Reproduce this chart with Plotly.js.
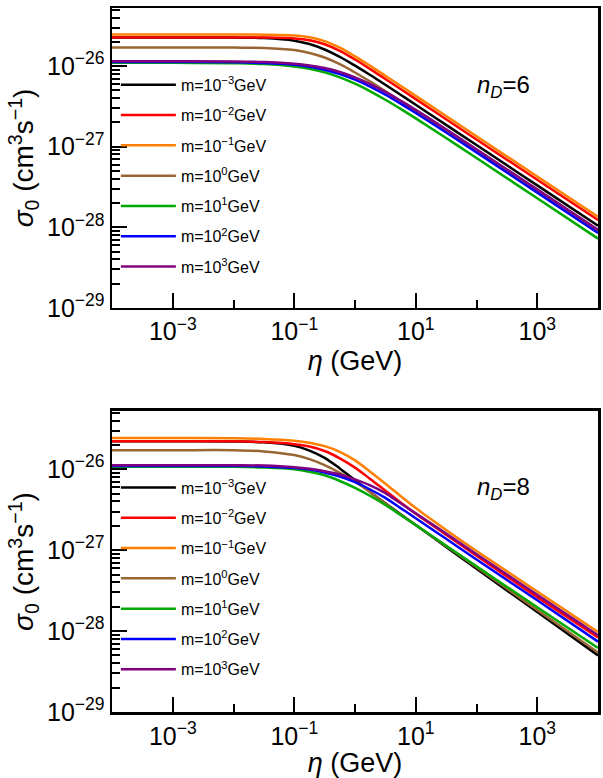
<!DOCTYPE html>
<html><head><meta charset="utf-8">
<script src="https://cdn.plot.ly/plotly-3.0.1.min.js"></script>
<style>html,body{margin:0;padding:0;background:#fff}#chart{width:603px;height:778px}</style>
</head><body><div id="chart"></div>
<script>
// eta (GeV) sample points
const eta = [1e-4, 1e-3, 1e-2, 0.0316, 0.1, 0.178, 0.316, 0.562, 1, 1.78, 3.16, 5.62, 10, 31.6, 100, 1000, 10000];

const massLabels = ['m=10<sup>−3</sup>GeV', 'm=10<sup>−2</sup>GeV', 'm=10<sup>−1</sup>GeV', 'm=10<sup>0</sup>GeV', 'm=10<sup>1</sup>GeV', 'm=10<sup>2</sup>GeV', 'm=10<sup>3</sup>GeV'];
const lineColors = ['#000000', '#ff0000', '#ff8000', '#996633', '#00aa00', '#0000ff', '#800080'];

// sigma_0 (cm^3 s^-1), n_D = 6
const nd6_m1em3 = [2.265e-26, 2.265e-26, 2.254e-26, 2.223e-26, 2.065e-26, 1.875e-26, 1.603e-26, 1.300e-26, 1.012e-26, 7.74e-27, 5.85e-27, 4.41e-27, 3.31e-27, 1.862e-27, 1.047e-27, 3.31e-28, 1.047e-28];
const nd6_m1em2 = [2.265e-26, 2.265e-26, 2.265e-26, 2.259e-26, 2.203e-26, 2.089e-26, 1.866e-26, 1.545e-26, 1.205e-26, 9.16e-27, 6.90e-27, 5.19e-27, 3.89e-27, 2.188e-27, 1.230e-27, 3.89e-28, 1.230e-28];
const nd6_m1em1 = [2.455e-26, 2.455e-26, 2.455e-26, 2.449e-26, 2.393e-26, 2.275e-26, 2.037e-26, 1.687e-26, 1.318e-26, 1.005e-26, 7.57e-27, 5.69e-27, 4.27e-27, 2.40e-27, 1.349e-27, 4.27e-28, 1.349e-28];
const nd6_m1e0 = [1.698e-26, 1.698e-26, 1.694e-26, 1.675e-26, 1.578e-26, 1.455e-26, 1.276e-26, 1.054e-26, 8.32e-27, 6.40e-27, 4.86e-27, 3.66e-27, 2.748e-27, 1.549e-27, 8.71e-28, 2.754e-28, 8.71e-29];
const nd6_m1e1 = [1.096e-26, 1.096e-26, 1.084e-26, 1.059e-26, 9.89e-27, 9.25e-27, 8.36e-27, 7.24e-27, 6.04e-27, 4.86e-27, 3.82e-27, 2.944e-27, 2.244e-27, 1.279e-27, 7.23e-28, 2.291e-28, 7.24e-29];
const nd6_m1e2 = [1.122e-26, 1.122e-26, 1.112e-26, 1.091e-26, 1.035e-26, 9.79e-27, 9.02e-27, 7.98e-27, 6.78e-27, 5.55e-27, 4.41e-27, 3.42e-27, 2.618e-27, 1.500e-27, 8.49e-28, 2.69e-28, 8.51e-29];
const nd6_m1e3 = [1.148e-26, 1.148e-26, 1.140e-26, 1.122e-26, 1.069e-26, 1.019e-26, 9.44e-27, 8.43e-27, 7.24e-27, 5.97e-27, 4.78e-27, 3.72e-27, 2.858e-27, 1.641e-27, 9.29e-28, 2.95e-28, 9.33e-29];

// sigma_0 (cm^3 s^-1), n_D = 8
const nd8_m1em3 = [2.213e-26, 2.213e-26, 2.203e-26, 2.148e-26, 1.950e-26, 1.698e-26, 1.380e-26, 1.023e-26, 7.33e-27, 5.25e-27, 3.80e-27, 2.786e-27, 2.042e-27, 1.096e-27, 5.89e-28, 1.718e-28, 5.01e-29];
const nd8_m1em2 = [2.213e-26, 2.213e-26, 2.213e-26, 2.163e-26, 2.042e-26, 1.905e-26, 1.679e-26, 1.365e-26, 1.047e-26, 7.59e-27, 5.43e-27, 3.89e-27, 2.818e-27, 1.549e-27, 8.51e-28, 2.63e-28, 8.32e-29];
const nd8_m1em1 = [2.427e-26, 2.427e-26, 2.415e-26, 2.371e-26, 2.249e-26, 2.128e-26, 1.928e-26, 1.641e-26, 1.288e-26, 9.33e-27, 6.61e-27, 4.68e-27, 3.31e-27, 1.778e-27, 9.77e-28, 3.09e-28, 9.77e-29];
const nd8_m1e0 = [1.718e-26, 1.718e-26, 1.718e-26, 1.660e-26, 1.496e-26, 1.334e-26, 1.122e-26, 9.02e-27, 7.00e-27, 5.19e-27, 3.76e-27, 2.754e-27, 2.042e-27, 1.122e-27, 6.17e-28, 1.820e-28, 5.43e-29];
const nd8_m1e1 = [1.072e-26, 1.072e-26, 1.072e-26, 1.052e-26, 1.0e-26, 9.33e-27, 8.41e-27, 7.16e-27, 5.89e-27, 4.68e-27, 3.63e-27, 2.723e-27, 2.042e-27, 1.135e-27, 6.31e-28, 1.972e-28, 6.17e-29];
const nd8_m1e2 = [1.096e-26, 1.096e-26, 1.096e-26, 1.084e-26, 1.035e-26, 9.89e-27, 9.12e-27, 8.13e-27, 6.92e-27, 5.62e-27, 4.42e-27, 3.31e-27, 2.483e-27, 1.380e-27, 7.67e-28, 2.399e-28, 7.41e-29];
const nd8_m1e3 = [1.122e-26, 1.122e-26, 1.122e-26, 1.109e-26, 1.059e-26, 1.012e-26, 9.44e-27, 8.61e-27, 7.50e-27, 6.31e-27, 5.07e-27, 3.80e-27, 2.851e-27, 1.603e-27, 8.91e-28, 2.818e-28, 8.91e-29];

const xTickVals = [1e-3, 1e-1, 1e1, 1e3];
const xTickText = ['10<sup>−3</sup>', '10<sup>−1</sup>', '10<sup>1</sup>', '10<sup>3</sup>'];
const xMinorVals = [1e-2, 1, 100];
const yTickVals = [1e-29, 1e-28, 1e-27, 1e-26];
const yTickText = ['10<sup>−29</sup>', '10<sup>−28</sup>', '10<sup>−27</sup>', '10<sup>−26</sup>'];
const yMinorVals = [];
for (let e = -29; e <= -26; e++) for (let k = 2; k <= 9; k++) yMinorVals.push(k * Math.pow(10, e));

const panelTop = [nd6_m1em3, nd6_m1em2, nd6_m1em1, nd6_m1e0, nd6_m1e1, nd6_m1e2, nd6_m1e3];
const panelBot = [nd8_m1em3, nd8_m1em2, nd8_m1em1, nd8_m1e0, nd8_m1e1, nd8_m1e2, nd8_m1e3];

const traces = [];
panelTop.forEach((ys, i) => traces.push({
  x: eta, y: ys, xaxis: 'x', yaxis: 'y', type: 'scatter', mode: 'lines',
  line: {color: lineColors[i], width: 2.5, shape: 'spline', smoothing: 1},
  name: massLabels[i], legend: 'legend', legendgroup: 't' + i
}));
panelBot.forEach((ys, i) => traces.push({
  x: eta, y: ys, xaxis: 'x2', yaxis: 'y2', type: 'scatter', mode: 'lines',
  line: {color: lineColors[i], width: 2.5, shape: 'spline', smoothing: 1},
  name: massLabels[i], legend: 'legend2', legendgroup: 'b' + i
}));

const FONT = 'Liberation Sans, Arial, Helvetica, sans-serif';
function xAxis(anchor) {
  return {
    type: 'log', range: [-4, 4], anchor: anchor,
    showline: true, linewidth: 2.5, linecolor: '#000', mirror: true,
    ticks: 'inside', ticklen: 15, tickwidth: 2, tickcolor: '#000',
    tickmode: 'array', tickvals: xTickVals, ticktext: xTickText,
    tickfont: {size: 25, family: FONT, color: '#000'},
    minor: {ticks: 'inside', ticklen: 8, tickwidth: 2, tickcolor: '#000', tickmode: 'array', tickvals: xMinorVals, showgrid: false},
    showgrid: false, zeroline: false,
    title: {text: '<i>η</i> (GeV)', font: {size: 27, family: FONT, color: '#000'}, standoff: 7}
  };
}
function yAxis(anchor, domain) {
  return {
    type: 'log', range: [-29, -25.28], anchor: anchor, domain: domain,
    showline: true, linewidth: 2.5, linecolor: '#000', mirror: true,
    ticks: 'inside', ticklen: 15, tickwidth: 2, tickcolor: '#000',
    tickmode: 'array', tickvals: yTickVals, ticktext: yTickText,
    tickfont: {size: 25, family: FONT, color: '#000'},
    minor: {ticks: 'inside', ticklen: 8, tickwidth: 2, tickcolor: '#000', tickmode: 'array', tickvals: yMinorVals, showgrid: false},
    showgrid: false, zeroline: false,
    title: {text: '<i>σ</i><sub>0</sub> (cm<sup>3</sup>s<sup>−1</sup>)', font: {size: 28, family: FONT, color: '#000'}, standoff: 5}
  };
}

const legendCommon = {
  xanchor: 'left', yanchor: 'top', bgcolor: 'rgba(0,0,0,0)', borderwidth: 0,
  font: {size: 16, family: FONT, color: '#000'}, tracegroupgap: 6.5, traceorder: 'grouped', itemwidth: 55
};

const layout = {
  width: 603, height: 778,
  margin: {l: 112, r: 5, t: 8, b: 66},
  paper_bgcolor: '#fff', plot_bgcolor: '#fff',
  font: {family: FONT, color: '#000', size: 22},
  showlegend: true,
  xaxis: xAxis('y'),
  yaxis: yAxis('x', [0.574, 1]),
  xaxis2: xAxis('y2'),
  yaxis2: yAxis('x2', [0, 0.4276]),
  legend: Object.assign({x: 0.008, y: 0.915}, legendCommon),
  legend2: Object.assign({x: 0.008, y: 0.343}, legendCommon),
  annotations: [
    {xref: 'x domain', yref: 'y domain', x: 0.805, y: 0.737, xanchor: 'center', yanchor: 'middle', text: '<i>n</i><sub><i>D</i></sub>=6', showarrow: false, font: {size: 24, family: FONT, color: '#000'}},
    {xref: 'x2 domain', yref: 'y2 domain', x: 0.805, y: 0.744, xanchor: 'center', yanchor: 'middle', text: '<i>n</i><sub><i>D</i></sub>=8', showarrow: false, font: {size: 24, family: FONT, color: '#000'}}
  ]
};

Plotly.newPlot('chart', traces, layout, {displayModeBar: false, staticPlot: true});
</script>
</body></html>
